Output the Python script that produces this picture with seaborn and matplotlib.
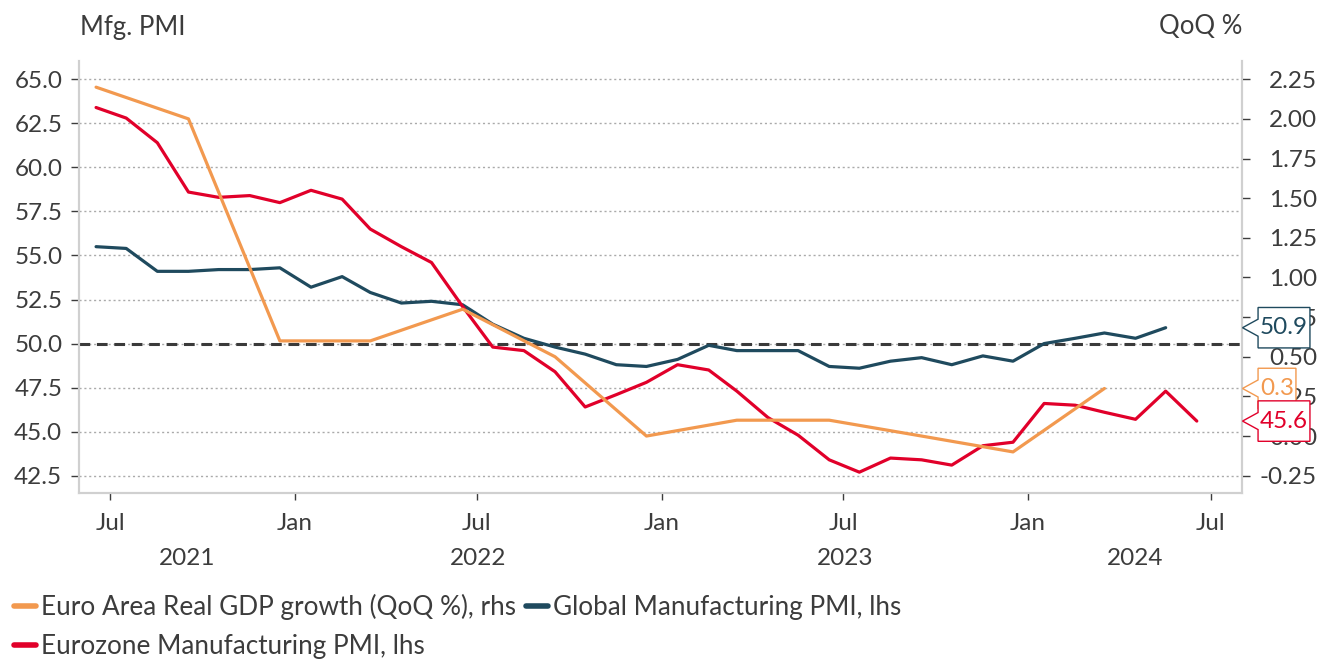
import matplotlib
matplotlib.use("Agg")
import matplotlib.pyplot as plt
import matplotlib.transforms as mtransforms
from matplotlib.lines import Line2D
from matplotlib.path import Path
import pandas as pd
import seaborn as sns

# monthly PMI readings, Jun 2021 - Jun 2024
eurozone_pmi = [63.4, 62.8, 61.4, 58.6, 58.3, 58.4, 58.0,
                58.7, 58.2, 56.5, 55.5, 54.6, 52.1, 49.8, 49.6, 48.4, 46.4, 47.1, 47.8,
                48.8, 48.5, 47.3, 45.8, 44.8, 43.4, 42.7, 43.5, 43.4, 43.1, 44.2, 44.4,
                46.6, 46.5, 46.1, 45.7, 47.3, 45.6]
# Jun 2021 - May 2024
global_pmi = [55.5, 55.4, 54.1, 54.1, 54.2, 54.2, 54.3,
              53.2, 53.8, 52.9, 52.3, 52.4, 52.2, 51.1, 50.3, 49.8, 49.4, 48.8, 48.7,
              49.1, 49.9, 49.6, 49.6, 49.6, 48.7, 48.6, 49.0, 49.2, 48.8, 49.3, 49.0,
              50.0, 50.3, 50.6, 50.3, 50.9]
# quarterly, Q2 2021 - Q1 2024
gdp_qoq = [2.2, 2.0, 0.6, 0.6, 0.8, 0.5, 0.0, 0.1, 0.1, 0.0, -0.1, 0.3]

left_ticks = [42.5, 45.0, 47.5, 50.0, 52.5, 55.0, 57.5, 60.0, 62.5, 65.0]
right_ticks = [-0.25, 0.0, 0.25, 0.5, 0.75, 1.0, 1.25, 1.5, 1.75, 2.0, 2.25]
x_tick_dates = ["2021-07-01", "2022-01-01", "2022-07-01", "2023-01-01",
                "2023-07-01", "2024-01-01", "2024-07-01"]
x_tick_labels = ["Jul", "Jan", "Jul", "Jan", "Jul", "Jan", "Jul"]
years = ["2021", "2022", "2023", "2024"]

ORANGE = "#F2994F"
NAVY = "#1F4A5E"
RED = "#E1002A"
TEXT = "#3c3c3c"
SPINE = "#d0d0d0"

months = pd.date_range("2021-06-01", periods=len(eurozone_pmi), freq="MS") + pd.Timedelta(days=16)
ez_df = pd.DataFrame({"date": months, "value": eurozone_pmi})
gl_df = pd.DataFrame({"date": months[:len(global_pmi)], "value": global_pmi})
gdp_df = pd.DataFrame({"date": months[::3][:len(gdp_qoq)], "value": gdp_qoq})

sns.set_style("white")
plt.rcParams["font.family"] = ["Lato", "DejaVu Sans"]
FS = 17.5


def callout_box(x0, y0, width, height, mutation_size):
    # rectangle with a small pointer on its left side
    padx, pady = 0.08 * mutation_size, 0.4 * mutation_size
    tip, half = 0.64 * mutation_size, 0.35 * mutation_size
    x0, y0 = x0 - padx, y0 - pady
    x1, y1 = x0 + width + 2 * padx, y0 + height + 2 * pady
    ym = (y0 + y1) / 2
    verts = [(x0, y0), (x1, y0), (x1, y1), (x0, y1), (x0, ym + half),
             (x0 - tip, ym), (x0, ym - half), (x0, y0)]
    codes = [Path.MOVETO] + [Path.LINETO] * 6 + [Path.CLOSEPOLY]
    return Path(verts, codes)


fig = plt.figure(figsize=(13.19, 6.59), dpi=100)
ax = fig.add_axes([79 / 1319, 1 - 493.3 / 659, (1242 - 79) / 1319, (493.3 - 61) / 659])
ax2 = ax.twinx()

ax.axhline(50, color="#3a3a3a", lw=2.2, ls=(0, (3.5, 2.2)), zorder=1.8)
sns.lineplot(data=gl_df, x="date", y="value", color=NAVY, lw=2.3, ax=ax)
sns.lineplot(data=ez_df, x="date", y="value", color=RED, lw=2.3, ax=ax)
sns.lineplot(data=gdp_df, x="date", y="value", color=ORANGE, lw=2.3, ax=ax2)

ax.set_xlim(pd.Timestamp("2021-05-31"), pd.Timestamp("2024-08-01"))
ax.set_ylim(41.50, 66.04)
ax2.set_ylim(-0.361, 2.365)

ax.set_yticks(left_ticks)
ax.set_yticklabels([f"{t:.1f}" for t in left_ticks])
ax2.set_yticks(right_ticks)
ax2.set_yticklabels([f"{t:.2f}" for t in right_ticks], ha="right")
ax.set_xticks(pd.to_datetime(x_tick_dates))
ax.set_xticklabels(x_tick_labels)

ax.set_xlabel("")
ax.set_ylabel("")
ax2.set_ylabel("")

ax.grid(axis="y", ls=(0, (1.5, 2)), color="#aaaaaa", lw=1)
ax.grid(axis="x", visible=False)
ax2.grid(False)

for a in (ax, ax2):
    a.spines["top"].set_visible(False)
    for side in ("left", "right", "bottom"):
        a.spines[side].set_color(SPINE)
        a.spines[side].set_linewidth(1.5)

ax.tick_params(axis="y", left=True, length=6, width=1, color=TEXT, labelcolor=TEXT,
               labelsize=FS, pad=6)
ax.tick_params(axis="x", bottom=True, length=5, width=1, color=TEXT, labelcolor=TEXT,
               labelsize=FS, pad=9)
ax2.tick_params(axis="y", right=True, length=6, width=1, color=TEXT, labelcolor=TEXT,
                labelsize=FS, pad=48)

# year labels centred under each visible year span
xmin, xmax = ax.get_xlim()
bounds = [xmin] + [matplotlib.dates.date2num(pd.Timestamp(f"{y}-01-01")) for y in (2022, 2023, 2024)] + [xmax]
year_tr = mtransforms.blended_transform_factory(ax.transData, ax.transAxes)
for i, yr in enumerate(years):
    ax.text((bounds[i] + bounds[i + 1]) / 2, -0.150, yr, transform=year_tr,
            ha="center", va="center", fontsize=FS, color=TEXT)

fig.text(80 / 1319, 1 - 27 / 659, "Mfg. PMI", ha="left", va="center", fontsize=18.5, color=TEXT)
fig.text(1242 / 1319, 1 - 27 / 659, "QoQ %", ha="right", va="center", fontsize=18.5, color=TEXT)

# last-value callouts
left_tr = mtransforms.blended_transform_factory(ax2.transAxes, ax.transData)
right_tr = mtransforms.blended_transform_factory(ax2.transAxes, ax2.transData)
callouts = [(global_pmi[-1], left_tr, NAVY, f"{global_pmi[-1]:.1f}"),
            (gdp_qoq[-1], right_tr, ORANGE, f"{gdp_qoq[-1]:.1f}"),
            (eurozone_pmi[-1], left_tr, RED, f"{eurozone_pmi[-1]:.1f}")]
for val, tr, col, txt in callouts:
    ax2.annotate(txt, xy=(1.0, val), xycoords=tr, xytext=(18, 0), textcoords="offset pixels",
                 ha="left", va="center", fontsize=FS, color=col, zorder=5,
                 bbox=dict(boxstyle=callout_box, fc="white", ec=col, lw=1))

handles = [Line2D([], [], color=ORANGE, lw=4),
           Line2D([], [], color=RED, lw=4),
           Line2D([], [], color=NAVY, lw=4)]
labels = ["Euro Area Real GDP growth (QoQ %), rhs",
          "Eurozone Manufacturing PMI, lhs",
          "Global Manufacturing PMI, lhs"]
fig.legend(handles, labels, loc="upper left", bbox_to_anchor=(14 / 1319, 1 - 594 / 659),
           ncol=2, frameon=False, fontsize=18.8, labelcolor=TEXT, handlelength=0.85,
           handletextpad=0.2, columnspacing=0.35, labelspacing=0.55, borderpad=0,
           borderaxespad=0)

fig.savefig("out.png", dpi=100)
